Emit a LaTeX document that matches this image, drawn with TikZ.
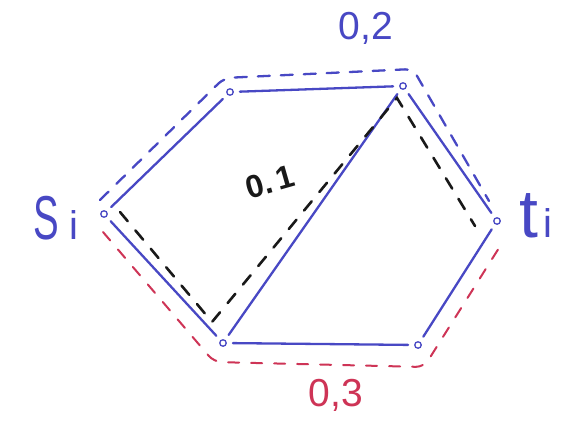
\documentclass[tikz,border=0pt]{standalone}
\usepackage{fontspec}
\usepackage{graphicx}
\setmainfont{Liberation Sans}
\usetikzlibrary{calc}
\definecolor{pen}{RGB}{72,72,196}
\definecolor{redpen}{RGB}{206,52,86}
\definecolor{blackpen}{RGB}{25,25,25}
\begin{document}
\begin{tikzpicture}[x=1pt,y=-1pt,
  vtx/.style={circle,draw=pen,line width=1.3pt,inner sep=0pt,minimum size=6.5pt,fill=white},
  edge/.style={draw=pen,line width=2.3pt,line cap=round,shorten >=6pt,shorten <=6pt},
  bluepath/.style={draw=pen,line width=2.3pt,line cap=round,dash pattern=on 12pt off 11pt,rounded corners=8pt},
  redpath/.style={draw=redpen,line width=2pt,line cap=round,dash pattern=on 11pt off 12pt,rounded corners=8pt},
  blackpath/.style={draw=blackpen,line width=2.6pt,line cap=round,dash pattern=on 12pt off 12pt},
  lbl/.style={inner sep=0pt}]
\useasboundingbox (0,0) rectangle (575,420);
\fill[white] (0,0) rectangle (575,420);

% vertices
\node[vtx] (S) at (104,214) {};
\node[vtx] (A) at (230,92) {};
\node[vtx] (B) at (403,86) {};
\node[vtx] (T) at (497,221) {};
\node[vtx] (C) at (223,343) {};
\node[vtx] (D) at (418,345) {};

% solid edges
\draw[edge] (S) -- (A);
\draw[edge] (A) -- (B);
\draw[edge] (B) -- (T);
\draw[edge] (S) -- (C);
\draw[edge] (C) -- (B);
\draw[edge] (C) -- (D);
\draw[edge] (D) -- (T);

% blue dashed path (upper)
\coordinate (bS) at ($(S)+(-4,-14)$);
\coordinate (bA) at ($(A)+(-6,-14)$);
\coordinate (bB) at ($(B)+(10,-17)$);
\coordinate (bT) at ($(T)+(-8,-20)$);
\draw[bluepath] (bS) -- (bA) -- (bB) -- (bT);

% red dashed path (lower)
\coordinate (rS) at ($(S)+(-1,18)$);
\coordinate (rC) at ($(C)+(-9,19)$);
\coordinate (rD) at ($(D)+(6,22)$);
\coordinate (rT) at ($(T)+(7,19)$);
\draw[redpath] (rS) -- (rC) -- (rD) -- (rT);

% black dashed path (inner)
\coordinate (kS) at ($(S)+(16,-2)$);
\coordinate (kC) at ($(C)+(-11,-21)$);
\coordinate (kB) at ($(B)+(-6,12)$);
\coordinate (kT) at ($(T)+(-22,5)$);
\draw[blackpath] (kS) -- (kC) -- (kB) -- (kT);

% labels
\node[lbl,text=pen,font=\fontsize{39}{39}\selectfont] (l02) at (366,28) {0,2};
\node[lbl,text=redpen,font=\fontsize{39}{39}\selectfont] (l03) at (336,395) {0,3};
\node[lbl,text=blackpen,font=\bfseries\fontsize{32}{32}\selectfont,rotate=16] (l01) at (270,182) {0.\hspace{4pt}1};
\node[lbl,text=pen,anchor=base west] (ls) at (33,239)
  {\fontsize{62}{62}\selectfont\scalebox{0.62}[1]{S}\hspace{11pt}\fontsize{40}{40}\selectfont i};
\node[lbl,text=pen,anchor=base west] (lt) at (519,237)
  {\fontsize{68}{68}\selectfont t\hspace{5pt}\fontsize{40}{40}\selectfont i};
\end{tikzpicture}
\end{document}
